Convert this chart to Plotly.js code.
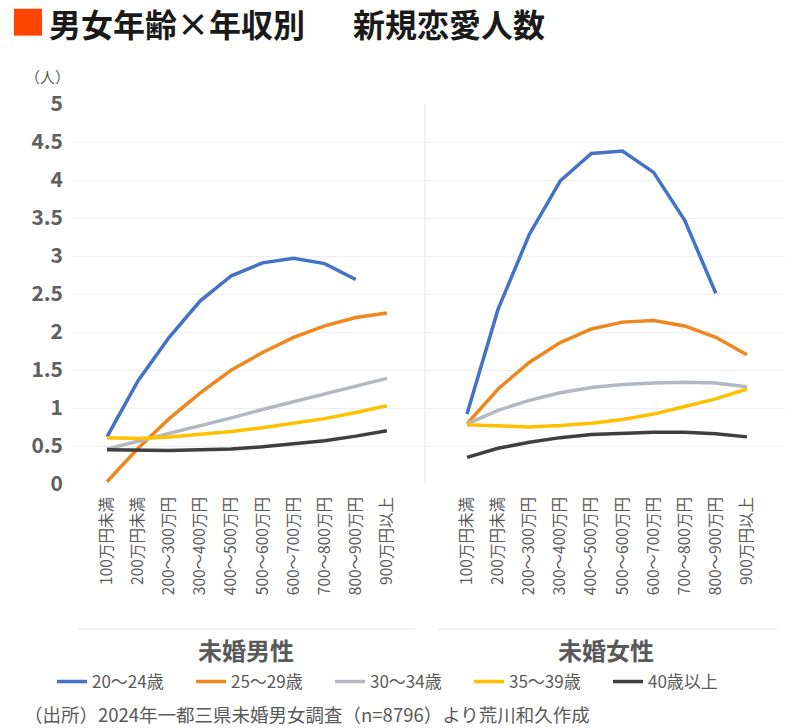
<!DOCTYPE html>
<html>
<head>
<meta charset="utf-8">
<script src="https://cdn.plot.ly/plotly-3.0.1.min.js"></script>
<style>
  html, body { margin: 0; padding: 0; background: #fff; }
  #chart { width: 800px; height: 728px; }
</style>
</head>
<body>
<div id="chart"></div>
<script>
// -----------------------
// Datos
// -----------------------
const INCOME = ["100万円未満", "200万円未満", "200～300万円", "300～400万円", "400～500万円",
                "500～600万円", "600～700万円", "700～800万円", "800～900万円", "900万円以上"];

const AGES = ["20～24歳", "25～29歳", "30～34歳", "35～39歳", "40歳以上"];

// 未婚男性
const MEN_20 = [0.62, 1.36, 1.93, 2.41, 2.74, 2.91, 2.97, 2.90, 2.69, null];
const MEN_25 = [0.03, 0.47, 0.86, 1.20, 1.50, 1.73, 1.93, 2.08, 2.19, 2.25];
const MEN_30 = [0.46, 0.56, 0.67, 0.77, 0.87, 0.98, 1.08, 1.18, 1.29, 1.39];
const MEN_35 = [0.61, 0.60, 0.62, 0.65, 0.69, 0.74, 0.80, 0.86, 0.94, 1.03];
const MEN_40 = [0.45, 0.44, 0.44, 0.45, 0.46, 0.49, 0.53, 0.57, 0.63, 0.70];

// 未婚女性
const WOMEN_20 = [0.92, 2.30, 3.28, 3.99, 4.35, 4.38, 4.10, 3.47, 2.51, null];
const WOMEN_25 = [0.79, 1.25, 1.60, 1.86, 2.04, 2.13, 2.15, 2.08, 1.93, 1.70];
const WOMEN_30 = [0.79, 0.97, 1.10, 1.20, 1.27, 1.31, 1.33, 1.34, 1.33, 1.28];
const WOMEN_35 = [0.78, 0.76, 0.75, 0.77, 0.80, 0.85, 0.92, 1.02, 1.12, 1.25];
const WOMEN_40 = [0.35, 0.47, 0.55, 0.61, 0.65, 0.67, 0.68, 0.68, 0.66, 0.62];

const COLORS = ["#4472C4", "#F0861E", "#B2B8C0", "#FFC000", "#3F3F3F"];

// -----------------------
// Geometria (px -> paper)
// -----------------------
const W = 800, H = 728;
const M = { l: 72, r: 15, t: 103.5, b: 243.5 };
const PW = W - M.l - M.r;
const PH = H - M.t - M.b;
const px = (x) => (x - M.l) / PW;
const py = (y) => (H - M.b - y) / PH;

const FONT = "Noto Sans CJK JP, Noto Sans, sans-serif";
const GREY = "#595959";
const SPLIT = px(425);

// -----------------------
// Trazas
// -----------------------
const menSeries = [MEN_20, MEN_25, MEN_30, MEN_35, MEN_40];
const womenSeries = [WOMEN_20, WOMEN_25, WOMEN_30, WOMEN_35, WOMEN_40];

const traces = [];
menSeries.forEach((ys, i) => {
  traces.push({
    x: INCOME, y: ys, type: "scatter", mode: "lines",
    name: AGES[i], xaxis: "x", yaxis: "y",
    line: { color: COLORS[i], width: 3.5 },
    legendgroup: AGES[i], connectgaps: false
  });
});
womenSeries.forEach((ys, i) => {
  traces.push({
    x: INCOME, y: ys, type: "scatter", mode: "lines",
    name: AGES[i], xaxis: "x2", yaxis: "y",
    line: { color: COLORS[i], width: 3.5 },
    legendgroup: AGES[i], showlegend: false, connectgaps: false
  });
});

const xCommon = {
  type: "category",
  tickangle: -90,
  ticks: "",
  showgrid: false,
  zeroline: false,
  showline: false,
  tickfont: { family: FONT, size: 15.5, color: GREY },
  ticklabelstandoff: 9,
  fixedrange: true
};

const layout = {
  width: W, height: H,
  margin: M,
  paper_bgcolor: "#fff",
  plot_bgcolor: "#fff",
  font: { family: FONT, color: GREY },
  showlegend: true,
  legend: {
    orientation: "h",
    x: px(52), xanchor: "left",
    y: py(683), yanchor: "middle",
    entrywidth: 94, entrywidthmode: "pixels",
    font: { family: FONT, size: 17, color: GREY },
    traceorder: "normal"
  },
  xaxis: Object.assign({}, xCommon, { domain: [0, SPLIT], range: [-1.125, 10.225], anchor: "y" }),
  xaxis2: Object.assign({}, xCommon, { domain: [SPLIT, 1], range: [-1.35, 10.225], anchor: "y" }),
  yaxis: {
    range: [0, 5],
    dtick: 0.5,
    showgrid: true,
    gridcolor: "#efefef",
    gridwidth: 1,
    zeroline: false,
    showline: false,
    ticks: "",
    tickfont: { family: FONT, size: 21, color: "#606060", weight: "bold" },
    ticklabelstandoff: 8,
    fixedrange: true
  },
  shapes: [
    // separador vertical entre paneles
    { type: "line", xref: "paper", yref: "paper", x0: SPLIT, x1: SPLIT, y0: 0, y1: 1,
      line: { color: "#e6e6e6", width: 1 } },
    // separadores horizontales bajo las etiquetas
    { type: "line", xref: "paper", yref: "paper", x0: px(77), x1: px(415), y0: py(630), y1: py(630),
      line: { color: "#e6e6e6", width: 1 } },
    { type: "line", xref: "paper", yref: "paper", x0: px(438), x1: px(777), y0: py(630), y1: py(630),
      line: { color: "#e6e6e6", width: 1 } },
    // cuadrado naranja del titulo
    { type: "rect", xref: "paper", yref: "paper", x0: px(14), x1: px(42), y0: py(35), y1: py(8),
      fillcolor: "#FF4500", line: { width: 0 } }
  ],
  annotations: [
    { text: "男女年齢×年収別", xref: "paper", yref: "paper", x: px(47), y: py(22),
      xanchor: "left", yanchor: "middle", showarrow: false,
      font: { family: FONT, size: 32, color: "#1a1a1a", weight: "bold" } },
    { text: "新規恋愛人数", xref: "paper", yref: "paper", x: px(351), y: py(22),
      xanchor: "left", yanchor: "middle", showarrow: false,
      font: { family: FONT, size: 32, color: "#1a1a1a", weight: "bold" } },
    { text: "（人）", xref: "paper", yref: "paper", x: px(47), y: py(76),
      xanchor: "center", yanchor: "middle", showarrow: false,
      font: { family: FONT, size: 15, color: GREY } },
    { text: "未婚男性", xref: "paper", yref: "paper", x: px(246), y: py(650),
      xanchor: "center", yanchor: "middle", showarrow: false,
      font: { family: FONT, size: 24, color: GREY, weight: "bold" } },
    { text: "未婚女性", xref: "paper", yref: "paper", x: px(606), y: py(650),
      xanchor: "center", yanchor: "middle", showarrow: false,
      font: { family: FONT, size: 24, color: GREY, weight: "bold" } },
    { text: "（出所）2024年一都三県未婚男女調査（n=8796）より荒川和久作成", xref: "paper", yref: "paper",
      x: px(22), y: py(715), xanchor: "left", yanchor: "middle", showarrow: false,
      font: { family: FONT, size: 18.5, color: GREY } }
  ]
};

Plotly.newPlot("chart", traces, layout, { displayModeBar: false, staticPlot: true });
</script>
</body>
</html>
